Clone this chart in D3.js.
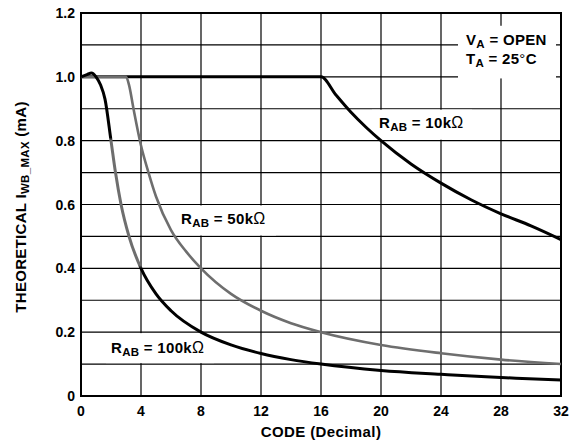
<!DOCTYPE html>
<html>
<head>
<meta charset="utf-8">
<script src="https://cdn.jsdelivr.net/npm/d3@7"></script>
<style>
  body { margin: 0; background: #fff; }
  svg text { font-family: "Liberation Sans", Arial, sans-serif; font-weight: bold; fill: #000; }
</style>
</head>
<body>
<div id="chart"></div>
<script>
// values
const codes10k = [0, 16, 17, 18, 19, 20, 22, 24, 26, 28, 30, 32]
const current10k = [1.0, 1.0, 0.943, 0.889, 0.842, 0.80, 0.727, 0.667, 0.615, 0.571, 0.533, 0.49]

const codes50k = [0, 3.0, 3.2, 3.5, 4, 4.5, 5, 6, 7, 8, 10, 12, 14, 16, 20, 24, 28, 32]
const current50k = [1.0, 1.0, 0.975, 0.9, 0.785, 0.7, 0.625, 0.52, 0.453, 0.40, 0.32, 0.267, 0.228, 0.20, 0.16, 0.134, 0.114, 0.10]

const codes100k = [0, 0.4, 0.7, 1.0, 1.3, 1.6, 2.0, 2.3, 2.67, 3.2, 4, 5, 6, 8, 10, 12, 14, 16, 20, 24, 27, 29, 32]
const current100k = [1.0, 1.007, 1.012, 1.0, 0.975, 0.93, 0.80, 0.70, 0.60, 0.50, 0.40, 0.32, 0.267, 0.20, 0.16, 0.133, 0.114, 0.10, 0.08, 0.068, 0.06, 0.056, 0.05]

const xTicks = [0, 4, 8, 12, 16, 20, 24, 28, 32]
const yTicks = [0, 0.2, 0.4, 0.6, 0.8, 1.0, 1.2]
const yGrid = [0.1, 0.2, 0.3, 0.4, 0.5, 0.6, 0.7, 0.8, 0.9, 1.0, 1.1]

const width = 573, height = 444
const margin = {top: 13, right: 12, bottom: 48, left: 81}

const svg = d3.select("#chart")
    .append("svg")
    .attr("width", width)
    .attr("height", height)

const x = d3.scaleLinear().domain([0, 32]).range([margin.left, width - margin.right])
const y = d3.scaleLinear().domain([0, 1.2]).range([height - margin.bottom, margin.top])

// grid
const grid = svg.append("g").attr("stroke", "#000").attr("stroke-width", 1.2)
grid.selectAll("line.h")
    .data(yGrid)
    .enter()
    .append("line")
    .attr("class", "h")
    .attr("x1", x(0)).attr("x2", x(32))
    .attr("y1", d => y(d)).attr("y2", d => y(d))
grid.selectAll("line.v")
    .data(xTicks.slice(1, -1))
    .enter()
    .append("line")
    .attr("class", "v")
    .attr("x1", d => x(d)).attr("x2", d => x(d))
    .attr("y1", y(0)).attr("y2", y(1.2))

// white boxes behind the labels (they sit between grid rows)
const boxes = [
    {x0: 458, x1: 556, y0: 1.16, y1: 0.995},
    {x0: 372, x1: 472, y0: 0.897, y1: 0.803},
    {x0: 176, x1: 276, y0: 0.597, y1: 0.503},
    {x0: 106, x1: 214, y0: 0.197, y1: 0.103}
]
svg.append("g")
    .selectAll("rect")
    .data(boxes)
    .enter()
    .append("rect")
    .attr("fill", "#fff")
    .attr("x", d => d.x0)
    .attr("width", d => d.x1 - d.x0)
    .attr("y", d => y(d.y0))
    .attr("height", d => y(d.y1) - y(d.y0))

// frame
svg.append("rect")
    .attr("x", x(0)).attr("y", y(1.2))
    .attr("width", x(32) - x(0)).attr("height", y(0) - y(1.2))
    .attr("fill", "none")
    .attr("stroke", "#000")
    .attr("stroke-width", 2)

// steep part of the 100k curve prints grey in the original
const defs = svg.append("defs")
const grad = defs.append("linearGradient")
    .attr("id", "g100k")
    .attr("gradientUnits", "userSpaceOnUse")
    .attr("x1", 0).attr("x2", 0)
    .attr("y1", y(1.2)).attr("y2", y(0))
const f = v => (y(v) - y(1.2)) / (y(0) - y(1.2))
;[[0, "#000"], [f(0.81), "#000"], [f(0.80), "#6e6e6e"], [f(0.41), "#6e6e6e"], [f(0.40), "#000"], [1, "#000"]]
    .forEach(s => grad.append("stop").attr("offset", s[0]).attr("stop-color", s[1]))

const line = d3.line()
    .x(d => x(d[0]))
    .y(d => y(d[1]))
    .curve(d3.curveMonotoneX)

const series = [
    {codes: codes10k, vals: current10k, color: "#000", w: 3},
    {codes: codes50k, vals: current50k, color: "#6e6e6e", w: 2.6},
    {codes: codes100k, vals: current100k, color: "url(#g100k)", w: 3}
]
svg.append("g")
    .selectAll("path")
    .data(series)
    .enter()
    .append("path")
    .attr("fill", "none")
    .attr("stroke", d => d.color)
    .attr("stroke-width", d => d.w)
    .attr("stroke-linejoin", "round")
    .attr("d", d => line(d.codes.map((c, i) => [c, d.vals[i]])))

// tick labels
svg.append("g")
    .selectAll("text")
    .data(xTicks)
    .enter()
    .append("text")
    .attr("x", d => x(d))
    .attr("y", y(0) + 20)
    .attr("text-anchor", "middle")
    .style("font-size", "14px")
    .text(d => d)

svg.append("g")
    .selectAll("text")
    .data(yTicks)
    .enter()
    .append("text")
    .attr("x", x(0) - 6)
    .attr("y", d => y(d) + 5)
    .attr("text-anchor", "end")
    .style("font-size", "14px")
    .text(d => d === 0 ? "0" : d.toFixed(1))

// axis titles
svg.append("text")
    .attr("x", (x(0) + x(32)) / 2)
    .attr("y", 437)
    .attr("text-anchor", "middle")
    .style("font-size", "15px")
    .style("letter-spacing", "0.4px")
    .text("CODE (Decimal)")

const yTitle = svg.append("text")
    .attr("transform", "translate(26,207) rotate(-90)")
    .attr("text-anchor", "middle")
    .style("font-size", "15px")
    .style("letter-spacing", "0.3px")
yTitle.append("tspan").text("THEORETICAL I")
yTitle.append("tspan").attr("dy", 3).style("font-size", "11.5px").text("WB_MAX")
yTitle.append("tspan").attr("dy", -3).text(" (mA)")

// curve labels
function subLabel(px, py, main, sub, rest, unit) {
    const t = svg.append("text")
        .attr("x", px).attr("y", py)
        .style("font-size", "15px")
        .style("letter-spacing", "0.3px")
    t.append("tspan").text(main)
    t.append("tspan").attr("dy", 3).style("font-size", "11.5px").text(sub)
    t.append("tspan").attr("dy", -3).text(rest)
    if (unit) t.append("tspan").style("font-weight", "normal").style("font-size", "16px").text(unit)
    return t
}

subLabel(379, 128, "R", "AB", " = 10k", "Ω")
subLabel(181, 224, "R", "AB", " = 50k", "Ω")
subLabel(111, 353, "R", "AB", " = 100k", "Ω")

subLabel(466, 45, "V", "A", " = OPEN", null)
const tLabel = svg.append("text")
    .attr("x", 466).attr("y", 64)
    .style("font-size", "15px")
    .style("letter-spacing", "0.3px")
tLabel.append("tspan").text("T")
tLabel.append("tspan").attr("dy", 3).style("font-size", "11.5px").text("A")
tLabel.append("tspan").attr("dy", -3).text(" = 25")
tLabel.append("tspan").style("font-weight", "normal").text("°")
tLabel.append("tspan").text("C")
</script>
</body>
</html>
